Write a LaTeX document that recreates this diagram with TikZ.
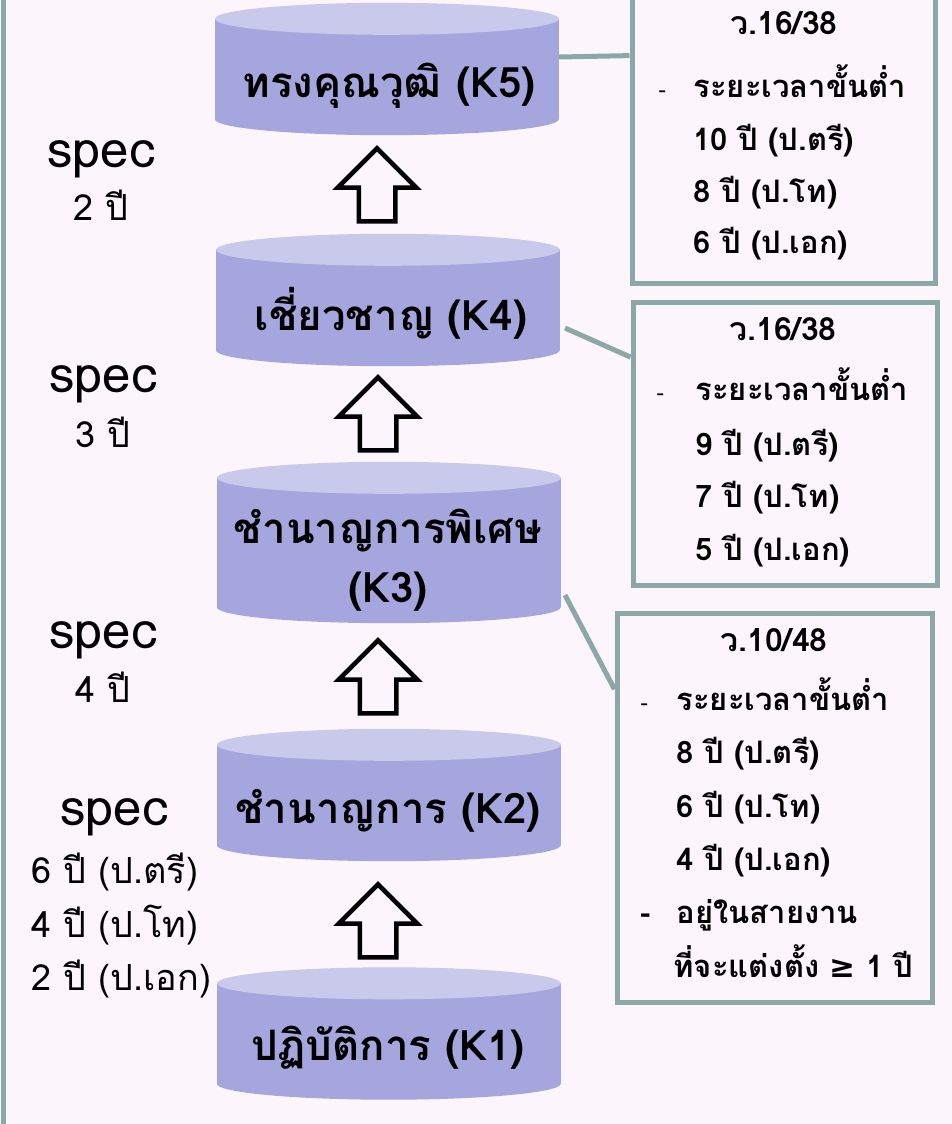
\documentclass[tikz,border=0pt]{standalone}
\usepackage{fontspec}
\setmainfont[Script=Thai]{Loma}
\newfontfamily\symfont{DejaVu Sans}
\usepackage{tikz}
\usetikzlibrary{shapes.geometric, shapes.arrows, calc}
\definecolor{pagebg}{HTML}{FCF6FC}
\definecolor{kbody}{HTML}{A6A6DE}
\definecolor{ktop}{HTML}{C9C9EC}
\definecolor{linkgray}{HTML}{8CA7A7}
% round ends of a level (bottom half and top cap)
\newcommand{\levelends}[1]{%
  \fill[kbody] (#1.south west) arc[start angle=180, end angle=360,
                                   x radius=172, y radius=16];
  \fill[ktop] (#1.north) ellipse[x radius=172, y radius=16];}

\begin{document}
\begin{tikzpicture}[x=1pt, y=1pt,
        level/.style={rectangle, fill=kbody, minimum width=344pt,
                      minimum height=100pt, inner sep=0pt},
        leveltext/.style={anchor=base, font=\fontsize{42}{50}\selectfont\bfseries},
        uparrow/.style={single arrow, shape border rotate=90, draw=black,
                        fill=pagebg, line width=4.5pt, minimum height=73pt,
                        inner sep=16pt, single arrow head extend=21pt},
        infobox/.style={rectangle, draw=linkgray, line width=5pt, fill=pagebg},
        infotitle/.style={anchor=base, font=\fontsize{32}{38}\selectfont\bfseries},
        infoline/.style={anchor=base west, font=\fontsize{31}{37}\selectfont\bfseries},
        infodash/.style={anchor=base west, font=\fontsize{22}{34}\selectfont},
        link/.style={draw=linkgray, line width=5pt},
        spec/.style={anchor=base, font=\fontsize{51}{60}\selectfont},
        years/.style={anchor=base, font=\fontsize{36}{44}\selectfont},
        yearsleft/.style={anchor=base west, font=\fontsize{36}{44}\selectfont}
      ]
        % Page
        \useasboundingbox (0,0) rectangle (952,-1124);
        \fill[pagebg] (0,0) rectangle (952,-1124);
        \coordinate (ltop) at (3,0);
        \coordinate (lbot) at (3,-1124);
        \draw[link] (ltop) -- (lbot);
        % Levels
        \node[level] (k5) at (387,-69)    {};
        \node[level] (k4) at (388,-300)   {};
        \node[level, minimum height=129pt] (k3) at (389,-542.5) {};
        \node[level] (k2) at (389,-795)   {};
        \node[level] (k1) at (389,-1033.5) {};
        \levelends{k5}
        \levelends{k4}
        \levelends{k3}
        \levelends{k2}
        \levelends{k1}
        \node[leveltext] (t5)  at (389,-97)  {ทรงคุณวุฒิ (K5)};
        \node[leveltext] (t4)  at (391,-330) {เชี่ยวชาญ (K4)};
        \node[leveltext] (t3a) at (388,-543) {ชำนาญการพิเศษ};
        \node[leveltext] (t3b) at (388,-602) {(K3)};
        \node[leveltext] (t2)  at (388,-823) {ชำนาญการ (K2)};
        \node[leveltext] (t1)  at (388,-1060) {ปฏิบัติการ (K1)};
        % Steps up
        \node[uparrow] (a12) at (378,-930) {};
        \node[uparrow] (a23) at (378,-686) {};
        \node[uparrow] (a34) at (378,-423) {};
        \node[uparrow] (a45) at (377,-194) {};
        % Years of spec
        \node[spec]  (s5) at (101,-167) {spec};
        \node[years] (y5) at (101,-220) {2 ปี};
        \node[spec]  (s4) at (103,-392) {spec};
        \node[years] (y4) at (103,-447) {3 ปี};
        \node[spec]  (s3) at (103,-648) {spec};
        \node[years] (y3) at (103,-702) {4 ปี};
        \node[spec]  (s2) at (114,-825) {spec};
        \node[yearsleft] (y2a) at (28,-883) {6 ปี (ป.ตรี)};
        \node[yearsleft] (y2b) at (28,-937) {4 ปี (ป.โท)};
        \node[yearsleft] (y2c) at (28,-990) {2 ปี (ป.เอก)};
        % Rule boxes
        \node[infobox, minimum width=303pt, minimum height=286pt] (b1) at (783.5,-140) {};
        \node[infobox, minimum width=304pt, minimum height=283pt] (b2) at (785,-443.5) {};
        \node[infobox, minimum width=315pt, minimum height=389pt] (b3) at (774.5,-807.5) {};
        % K5 rule
        \node[infotitle] (r1)  at (784,-35)  {ว.16/38};
        \node[infodash]  (d1)  at (655,-97)  {-};
        \node[infoline]  (r1a) at (690,-97)  {ระยะเวลาขั้นต่ำ};
        \node[infoline]  (r1b) at (690,-150) {10 ปี (ป.ตรี)};
        \node[infoline]  (r1c) at (690,-202) {8 ปี (ป.โท)};
        \node[infoline]  (r1d) at (690,-253) {6 ปี (ป.เอก)};
        % K4 rule
        \node[infotitle] (r2)  at (783,-340) {ว.16/38};
        \node[infodash]  (d2)  at (653,-400) {-};
        \node[infoline]  (r2a) at (692,-400) {ระยะเวลาขั้นต่ำ};
        \node[infoline]  (r2b) at (692,-455) {9 ปี (ป.ตรี)};
        \node[infoline]  (r2c) at (692,-507) {7 ปี (ป.โท)};
        \node[infoline]  (r2d) at (692,-560) {5 ปี (ป.เอก)};
        % K3 rule
        \node[infotitle] (r3)  at (774,-651) {ว.10/48};
        \node[infodash]  (d3)  at (637,-710) {-};
        \node[infoline]  (r3a) at (673,-710) {ระยะเวลาขั้นต่ำ};
        \node[infoline]  (r3b) at (673,-763) {8 ปี (ป.ตรี)};
        \node[infoline]  (r3c) at (673,-817) {6 ปี (ป.โท)};
        \node[infoline]  (r3d) at (673,-870) {4 ปี (ป.เอก)};
        \node[infoline]  (d3b) at (637,-923) {-};
        \node[infoline]  (r3e) at (673,-923) {อยู่ในสายงาน};
        \node[infoline]  (r3f) at (670,-977) {ที่จะแต่งตั้ง {\symfont\bfseries ≥} 1 ปี};
        % Links
        \coordinate (c5) at ($(k5.east)+(0,12)$);
        \coordinate (c4) at (565,-328);
        \coordinate (c3) at (565,-595);
        \draw[link] (c5) -- ($(b1.north west)!0.21!(b1.south west)$);
        \draw[link] (c4) -- ($(b2.north west)!0.2!(b2.south west)$);
        \draw[link] (c3) -- ($(b3.north west)!0.2!(b3.south west)$);
      \end{tikzpicture}
\end{document}
